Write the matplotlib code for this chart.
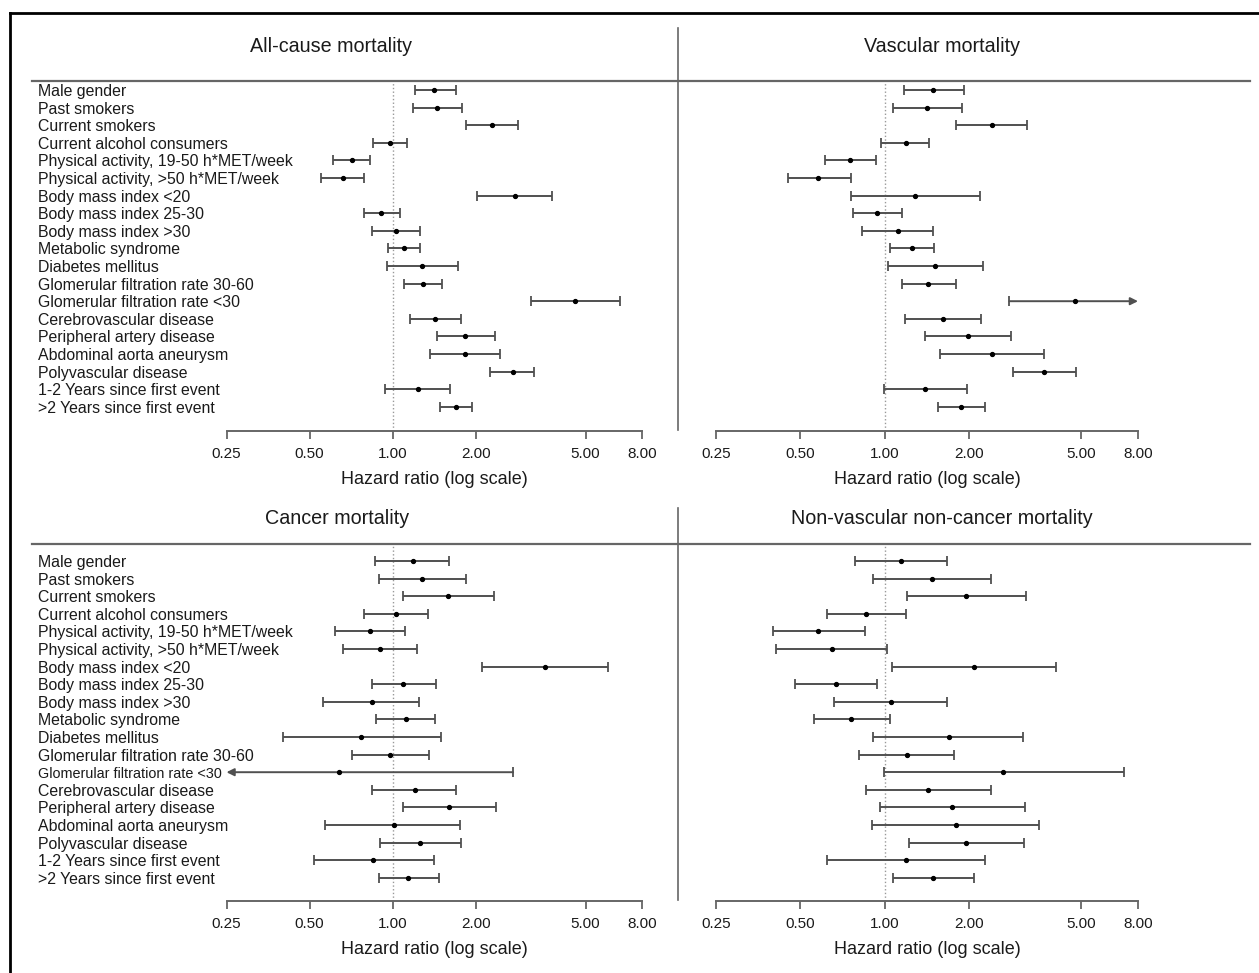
import matplotlib
matplotlib.use("Agg")
import matplotlib.pyplot as plt
import matplotlib.transforms as mtransforms
from matplotlib.lines import Line2D
from matplotlib.ticker import NullLocator, FixedLocator, FixedFormatter

plt.rcParams['font.family'] = ['Liberation Sans', 'DejaVu Sans']

# ---- data (hazard ratio, lower and upper 95% CI) ----
labels = [
    "Male gender",
    "Past smokers",
    "Current smokers",
    "Current alcohol consumers",
    "Physical activity, 19-50 h*MET/week",
    "Physical activity, >50 h*MET/week",
    "Body mass index <20",
    "Body mass index 25-30",
    "Body mass index >30",
    "Metabolic syndrome",
    "Diabetes mellitus",
    "Glomerular filtration rate 30-60",
    "Glomerular filtration rate <30",
    "Cerebrovascular disease",
    "Peripheral artery disease",
    "Abdominal aorta aneurysm",
    "Polyvascular disease",
    "1-2 Years since first event",
    ">2 Years since first event",
]

allcause_hr = [1.41, 1.45, 2.28, 0.98, 0.71, 0.66, 2.77, 0.91, 1.03, 1.10,
               1.28, 1.29, 4.59, 1.42, 1.83, 1.83, 2.72, 1.23, 1.69]
allcause_lo = [1.20, 1.18, 1.85, 0.85, 0.61, 0.55, 2.02, 0.79, 0.84, 0.96,
               0.95, 1.10, 3.18, 1.16, 1.45, 1.36, 2.25, 0.94, 1.48]
allcause_hi = [1.69, 1.78, 2.85, 1.13, 0.83, 0.79, 3.78, 1.06, 1.26, 1.26,
               1.73, 1.51, 6.66, 1.77, 2.34, 2.45, 3.26, 1.61, 1.94]

vascular_hr = [1.49, 1.42, 2.41, 1.19, 0.75, 0.58, 1.28, 0.94, 1.11, 1.25,
               1.51, 1.43, 4.75, 1.61, 1.98, 2.41, 3.70, 1.39, 1.87]
vascular_lo = [1.17, 1.07, 1.80, 0.97, 0.61, 0.45, 0.76, 0.77, 0.83, 1.04,
               1.03, 1.15, 2.78, 1.18, 1.39, 1.57, 2.86, 0.99, 1.55]
vascular_hi = [1.91, 1.88, 3.22, 1.44, 0.93, 0.76, 2.18, 1.15, 1.48, 1.50,
               2.24, 1.79, 9.00, 2.20, 2.81, 3.70, 4.80, 1.96, 2.27]

cancer_hr = [1.18, 1.28, 1.58, 1.03, 0.83, 0.90, 3.55, 1.09, 0.84, 1.12,
             0.77, 0.98, 0.64, 1.20, 1.60, 1.01, 1.26, 0.85, 1.14]
cancer_lo = [0.86, 0.89, 1.09, 0.79, 0.62, 0.66, 2.10, 0.84, 0.56, 0.87,
             0.40, 0.71, 0.20, 0.84, 1.09, 0.57, 0.90, 0.52, 0.89]
cancer_hi = [1.60, 1.84, 2.32, 1.34, 1.11, 1.22, 6.00, 1.43, 1.25, 1.42,
             1.49, 1.35, 2.73, 1.70, 2.37, 1.76, 1.77, 1.41, 1.47]

other_hr = [1.14, 1.47, 1.95, 0.86, 0.58, 0.65, 2.08, 0.67, 1.05, 0.76,
            1.69, 1.20, 2.65, 1.43, 1.74, 1.79, 1.95, 1.19, 1.49]
other_lo = [0.78, 0.91, 1.20, 0.62, 0.40, 0.41, 1.06, 0.48, 0.66, 0.56,
            0.91, 0.81, 0.99, 0.86, 0.96, 0.90, 1.22, 0.62, 1.07]
other_hi = [1.66, 2.39, 3.19, 1.19, 0.85, 1.02, 4.07, 0.94, 1.66, 1.04,
            3.12, 1.76, 7.12, 2.39, 3.17, 3.56, 3.14, 2.27, 2.08]

ticks = [0.25, 0.5, 1, 2, 5, 8]
tick_labels = ["0.25", "0.50", "1.00", "2.00", "5.00", "8.00"]
XMIN, XMAX = 0.25, 8.0

# ---- layout (pixels of the 1259x973 figure) ----
W, H = 1259, 973
ROW_STEP = 17.6
BAR = "#505050"
LINE = "#666666"
TXT = "#1a1a1a"

def fx(px):
    return px / W

def fy(py):
    return 1 - py / H

fig = plt.figure(figsize=(W / 100, H / 100), dpi=100)

# title, data, x-range, header y, first row y, axis y, row labels?, title pos
panels = [
    ("All-cause mortality", allcause_hr, allcause_lo, allcause_hi,
     226.5, 642, 81, 90, 431, True, 331, 47),
    ("Vascular mortality", vascular_hr, vascular_lo, vascular_hi,
     716, 1138, 81, 90, 431, False, 942, 47),
    ("Cancer mortality", cancer_hr, cancer_lo, cancer_hi,
     226.5, 642, 544, 561, 901, True, 337, 518),
    ("Non-vascular non-cancer mortality", other_hr, other_lo, other_hi,
     716, 1138, 544, 561, 901, False, 942, 518),
]

for (title, hr, lo, hi, x0, x1, head_y, row_y, axis_y,
     show_labels, tx, ty) in panels:
    ax = fig.add_axes([fx(x0), fy(axis_y), (x1 - x0) / W, (axis_y - head_y) / H])
    ax.patch.set_visible(False)
    ax.set_xscale('log', base=2)
    ax.set_xlim(XMIN, XMAX)
    ax.set_ylim((axis_y - row_y) / ROW_STEP, (head_y - row_y) / ROW_STEP)
    ax.xaxis.set_major_locator(FixedLocator(ticks))
    ax.xaxis.set_major_formatter(FixedFormatter(tick_labels))
    ax.xaxis.set_minor_locator(NullLocator())
    ax.set_yticks([])
    for s in ("top", "left", "right"):
        ax.spines[s].set_visible(False)
    ax.spines["bottom"].set_color(LINE)
    ax.spines["bottom"].set_linewidth(1.4)
    ax.tick_params(axis='x', direction='out', length=6, width=1.3,
                   color=LINE, pad=5.5, labelsize=11, labelcolor=TXT)
    ax.set_xlabel("Hazard ratio (log scale)", fontsize=13, color=TXT,
                  labelpad=7)

    ax.axvline(1, color="#999999", ls=":", lw=1.0, zorder=1)

    for i, (h, l, u) in enumerate(zip(hr, lo, hi)):
        lc, uc = max(l, XMIN), min(u, XMAX)
        if u > XMAX:
            ax.annotate("", xy=(XMAX, i), xytext=(lc, i),
                        arrowprops=dict(arrowstyle="-|>", color=BAR, lw=1.4,
                                        mutation_scale=11, shrinkA=0, shrinkB=0),
                        annotation_clip=False)
        elif l < XMIN:
            ax.annotate("", xy=(XMIN, i), xytext=(uc, i),
                        arrowprops=dict(arrowstyle="-|>", color=BAR, lw=1.4,
                                        mutation_scale=11, shrinkA=0, shrinkB=0),
                        annotation_clip=False)
        else:
            ax.hlines(i, lc, uc, color=BAR, lw=1.4, zorder=2)
        if l >= XMIN:
            ax.plot(l, i, marker="|", ms=7, mew=1.3, color=BAR, clip_on=False)
        if u <= XMAX:
            ax.plot(u, i, marker="|", ms=7, mew=1.3, color=BAR, clip_on=False)
        ax.plot(h, i, "o", ms=2.8, color="black", zorder=3, clip_on=False)

    if show_labels:
        trans = mtransforms.blended_transform_factory(fig.transFigure, ax.transData)
        for i, lab in enumerate(labels):
            # squeeze the label a little where an arrow runs into it
            size = 10.4 if lo[i] < XMIN else 11.4
            ax.text(fx(38), i, lab, transform=trans, ha="left",
                    va="center_baseline", fontsize=size, color=TXT)

    fig.text(fx(tx), fy(ty), title, ha="center", va="center",
             fontsize=14.2, color=TXT)

# header rules, divider and outer frame
for y in (81, 544):
    fig.add_artist(Line2D([fx(32), fx(1250)], [fy(y), fy(y)], color=LINE, lw=1.6))
for ya, yb in ((28, 430), (508, 900)):
    fig.add_artist(Line2D([fx(678), fx(678)], [fy(ya), fy(yb)], color=LINE, lw=1.2))
fig.add_artist(Line2D([fx(10), fx(10)], [fy(13), 0], color="black", lw=2))
fig.add_artist(Line2D([fx(10), 1], [fy(13), fy(13)], color="black", lw=2))

fig.savefig("out.png", dpi=100)
